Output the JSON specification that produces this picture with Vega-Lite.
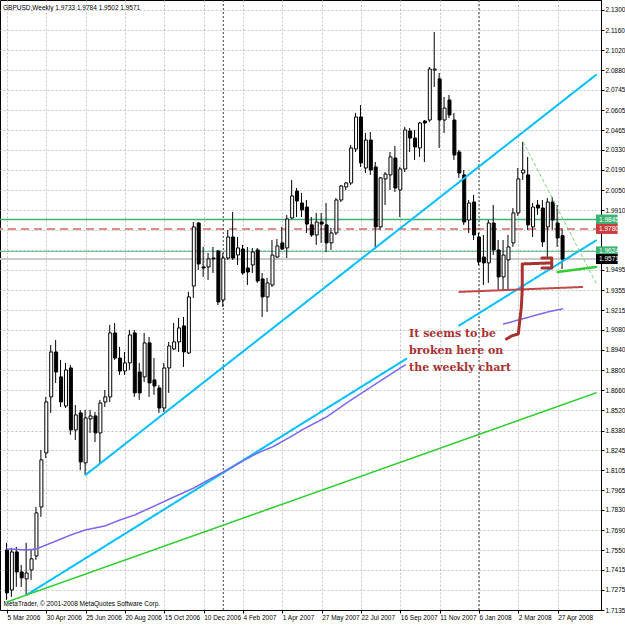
{
"$schema":"https://vega.github.io/schema/vega-lite/v6.json",
"width":601,"height":610,"padding":{"left":0,"top":0,"right":24,"bottom":15},"autosize":{"type":"none"},
"background":"white",
"title":{"text":"GBPUSD,Weekly  1.9733 1.9784 1.9502 1.9571","anchor":"start","frame":"group","orient":"top","offset":-18,"fontSize":6.5,"font":"Liberation Sans","fontWeight":"normal","color":"black","dx":3,"baseline":"bottom"},
"config":{"view":{"stroke":"black","strokeWidth":1},"axis":{"labelFont":"Liberation Sans","labelFontSize":6.5,"labelColor":"black","domainColor":"black","tickColor":"black","gridColor":"#C4C4C4","gridDash":[2,2],"gridWidth":1,"labelOverlap":false,"labelFlush":false},"axisY":{"labelOverlap":false,"labelSeparation":-20}},
"datasets":{
"candles":[
{"d":"2006-03-05","o":1.7552,"h":1.7601,"l":1.7205,"c":1.7254},
{"d":"2006-03-12","o":1.7274,"h":1.7566,"l":1.7226,"c":1.7538},
{"d":"2006-03-19","o":1.7538,"h":1.7573,"l":1.7295,"c":1.7399},
{"d":"2006-03-26","o":1.7399,"h":1.7448,"l":1.7295,"c":1.7358},
{"d":"2006-04-02","o":1.7351,"h":1.7601,"l":1.7240,"c":1.7392},
{"d":"2006-04-09","o":1.7413,"h":1.7552,"l":1.7344,"c":1.7490},
{"d":"2006-04-16","o":1.7510,"h":1.7850,"l":1.7483,"c":1.7809},
{"d":"2006-04-23","o":1.7850,"h":1.8246,"l":1.7781,"c":1.8177},
{"d":"2006-04-30","o":1.8225,"h":1.8614,"l":1.8190,"c":1.8579},
{"d":"2006-05-07","o":1.8614,"h":1.8975,"l":1.8503,"c":1.8926},
{"d":"2006-05-14","o":1.8926,"h":1.9009,"l":1.8711,"c":1.8787},
{"d":"2006-05-21","o":1.8753,"h":1.8871,"l":1.8544,"c":1.8579},
{"d":"2006-05-28","o":1.8551,"h":1.8850,"l":1.8537,"c":1.8801},
{"d":"2006-06-04","o":1.8815,"h":1.8836,"l":1.8350,"c":1.8385},
{"d":"2006-06-11","o":1.8385,"h":1.8558,"l":1.8315,"c":1.8489},
{"d":"2006-06-18","o":1.8503,"h":1.8524,"l":1.8107,"c":1.8163},
{"d":"2006-06-25","o":1.8156,"h":1.8524,"l":1.8073,"c":1.8468},
{"d":"2006-07-02","o":1.8461,"h":1.8524,"l":1.8364,"c":1.8482},
{"d":"2006-07-09","o":1.8482,"h":1.8510,"l":1.8301,"c":1.8364},
{"d":"2006-07-16","o":1.8364,"h":1.8593,"l":1.8156,"c":1.8572},
{"d":"2006-07-23","o":1.8579,"h":1.8662,"l":1.8544,"c":1.8614},
{"d":"2006-07-30","o":1.8614,"h":1.9114,"l":1.8579,"c":1.9058},
{"d":"2006-08-06","o":1.9058,"h":1.9127,"l":1.8871,"c":1.8884},
{"d":"2006-08-13","o":1.8884,"h":1.8961,"l":1.8767,"c":1.8794},
{"d":"2006-08-20","o":1.8794,"h":1.8926,"l":1.8767,"c":1.8850},
{"d":"2006-08-27","o":1.8850,"h":1.9079,"l":1.8801,"c":1.9044},
{"d":"2006-09-03","o":1.9058,"h":1.9079,"l":1.8614,"c":1.8642},
{"d":"2006-09-10","o":1.8787,"h":1.8850,"l":1.8593,"c":1.8642},
{"d":"2006-09-17","o":1.8753,"h":1.9058,"l":1.8718,"c":1.8989},
{"d":"2006-09-24","o":1.8989,"h":1.9030,"l":1.8614,"c":1.8711},
{"d":"2006-10-01","o":1.8732,"h":1.8884,"l":1.8628,"c":1.8690},
{"d":"2006-10-08","o":1.8676,"h":1.8697,"l":1.8503,"c":1.8537},
{"d":"2006-10-15","o":1.8537,"h":1.8850,"l":1.8510,"c":1.8815},
{"d":"2006-10-22","o":1.8815,"h":1.8996,"l":1.8642,"c":1.8968},
{"d":"2006-10-29","o":1.8947,"h":1.9127,"l":1.8940,"c":1.8996},
{"d":"2006-11-05","o":1.8996,"h":1.9162,"l":1.8926,"c":1.9093},
{"d":"2006-11-12","o":1.9107,"h":1.9169,"l":1.8822,"c":1.8926},
{"d":"2006-11-19","o":1.8919,"h":1.9343,"l":1.8912,"c":1.9308},
{"d":"2006-11-26","o":1.9384,"h":1.9828,"l":1.9301,"c":1.9794},
{"d":"2006-12-03","o":1.9821,"h":1.9828,"l":1.9495,"c":1.9537},
{"d":"2006-12-10","o":1.9516,"h":1.9655,"l":1.9447,"c":1.9509},
{"d":"2006-12-17","o":1.9516,"h":1.9613,"l":1.9426,"c":1.9572},
{"d":"2006-12-24","o":1.9578,"h":1.9655,"l":1.9474,"c":1.9572},
{"d":"2006-12-31","o":1.9627,"h":1.9634,"l":1.9252,"c":1.9273},
{"d":"2007-01-07","o":1.9287,"h":1.9613,"l":1.9238,"c":1.9578},
{"d":"2007-01-14","o":1.9578,"h":1.9773,"l":1.9565,"c":1.9724},
{"d":"2007-01-21","o":1.9724,"h":1.9898,"l":1.9565,"c":1.9578},
{"d":"2007-01-28","o":1.9599,"h":1.9724,"l":1.9530,"c":1.9648},
{"d":"2007-02-04","o":1.9641,"h":1.9669,"l":1.9461,"c":1.9474},
{"d":"2007-02-11","o":1.9509,"h":1.9655,"l":1.9391,"c":1.9481},
{"d":"2007-02-18","o":1.9530,"h":1.9648,"l":1.9474,"c":1.9620},
{"d":"2007-02-25","o":1.9634,"h":1.9648,"l":1.9405,"c":1.9419},
{"d":"2007-03-04","o":1.9433,"h":1.9474,"l":1.9169,"c":1.9308},
{"d":"2007-03-11","o":1.9308,"h":1.9440,"l":1.9204,"c":1.9405},
{"d":"2007-03-18","o":1.9391,"h":1.9703,"l":1.9377,"c":1.9599},
{"d":"2007-03-25","o":1.9585,"h":1.9710,"l":1.9578,"c":1.9662},
{"d":"2007-04-01","o":1.9683,"h":1.9794,"l":1.9634,"c":1.9641},
{"d":"2007-04-08","o":1.9648,"h":1.9877,"l":1.9578,"c":1.9849},
{"d":"2007-04-15","o":1.9856,"h":2.0120,"l":1.9849,"c":2.0009},
{"d":"2007-04-22","o":2.0043,"h":2.0064,"l":1.9863,"c":1.9974},
{"d":"2007-04-29","o":1.9960,"h":2.0030,"l":1.9863,"c":1.9912},
{"d":"2007-05-06","o":1.9932,"h":1.9981,"l":1.9752,"c":1.9814},
{"d":"2007-05-13","o":1.9808,"h":1.9863,"l":1.9724,"c":1.9738},
{"d":"2007-05-20","o":1.9738,"h":1.9891,"l":1.9669,"c":1.9828},
{"d":"2007-05-27","o":1.9828,"h":1.9891,"l":1.9683,"c":1.9814},
{"d":"2007-06-03","o":1.9808,"h":1.9960,"l":1.9620,"c":1.9683},
{"d":"2007-06-10","o":1.9683,"h":1.9787,"l":1.9634,"c":1.9752},
{"d":"2007-06-17","o":1.9752,"h":1.9995,"l":1.9738,"c":1.9981},
{"d":"2007-06-24","o":1.9981,"h":2.0085,"l":1.9967,"c":2.0078},
{"d":"2007-07-01","o":2.0071,"h":2.0106,"l":2.0050,"c":2.0099},
{"d":"2007-07-08","o":2.0099,"h":2.0363,"l":2.0085,"c":2.0342},
{"d":"2007-07-15","o":2.0335,"h":2.0585,"l":2.0314,"c":2.0557},
{"d":"2007-07-22","o":2.0557,"h":2.0640,"l":2.0210,"c":2.0238},
{"d":"2007-07-29","o":2.0203,"h":2.0446,"l":2.0168,"c":2.0397},
{"d":"2007-08-05","o":2.0397,"h":2.0453,"l":2.0155,"c":2.0189},
{"d":"2007-08-12","o":2.0210,"h":2.0245,"l":1.9655,"c":1.9794},
{"d":"2007-08-19","o":1.9794,"h":2.0141,"l":1.9773,"c":2.0134},
{"d":"2007-08-26","o":2.0127,"h":2.0175,"l":1.9946,"c":2.0161},
{"d":"2007-09-02","o":2.0155,"h":2.0314,"l":2.0050,"c":2.0280},
{"d":"2007-09-09","o":2.0272,"h":2.0356,"l":2.0036,"c":2.0064},
{"d":"2007-09-16","o":2.0050,"h":2.0210,"l":1.9863,"c":2.0196},
{"d":"2007-09-23","o":2.0196,"h":2.0488,"l":2.0175,"c":2.0467},
{"d":"2007-09-30","o":2.0460,"h":2.0481,"l":2.0314,"c":2.0411},
{"d":"2007-10-07","o":2.0411,"h":2.0467,"l":2.0259,"c":2.0349},
{"d":"2007-10-14","o":2.0342,"h":2.0522,"l":2.0280,"c":2.0515},
{"d":"2007-10-21","o":2.0529,"h":2.0536,"l":2.0245,"c":2.0515},
{"d":"2007-10-28","o":2.0536,"h":2.0904,"l":2.0522,"c":2.0890},
{"d":"2007-11-04","o":2.0883,"h":2.1147,"l":2.0765,"c":2.0890},
{"d":"2007-11-11","o":2.0821,"h":2.0862,"l":2.0342,"c":2.0536},
{"d":"2007-11-18","o":2.0536,"h":2.0696,"l":2.0446,"c":2.0619},
{"d":"2007-11-25","o":2.0675,"h":2.0710,"l":2.0550,"c":2.0571},
{"d":"2007-12-02","o":2.0536,"h":2.0585,"l":2.0259,"c":2.0293},
{"d":"2007-12-09","o":2.0314,"h":2.0328,"l":2.0134,"c":2.0168},
{"d":"2007-12-16","o":2.0155,"h":2.0189,"l":1.9808,"c":1.9828},
{"d":"2007-12-23","o":1.9842,"h":1.9981,"l":1.9752,"c":1.9960},
{"d":"2007-12-30","o":1.9967,"h":2.0016,"l":1.9703,"c":1.9738},
{"d":"2008-01-06","o":1.9724,"h":1.9752,"l":1.9530,"c":1.9551},
{"d":"2008-01-13","o":1.9585,"h":1.9738,"l":1.9391,"c":1.9544},
{"d":"2008-01-20","o":1.9544,"h":1.9842,"l":1.9405,"c":1.9821},
{"d":"2008-01-27","o":1.9821,"h":1.9946,"l":1.9599,"c":1.9634},
{"d":"2008-02-03","o":1.9634,"h":1.9703,"l":1.9356,"c":1.9447},
{"d":"2008-02-10","o":1.9447,"h":1.9703,"l":1.9356,"c":1.9599},
{"d":"2008-02-17","o":1.9565,"h":1.9738,"l":1.9356,"c":1.9655},
{"d":"2008-02-24","o":1.9683,"h":1.9925,"l":1.9655,"c":1.9891},
{"d":"2008-03-02","o":1.9891,"h":2.0203,"l":1.9870,"c":2.0127},
{"d":"2008-03-09","o":2.0168,"h":2.0384,"l":2.0120,"c":2.0189},
{"d":"2008-03-16","o":2.0155,"h":2.0279,"l":1.9773,"c":1.9808},
{"d":"2008-03-23","o":1.9794,"h":1.9960,"l":1.9724,"c":1.9932},
{"d":"2008-03-30","o":1.9946,"h":1.9981,"l":1.9877,"c":1.9925},
{"d":"2008-04-06","o":1.9925,"h":1.9981,"l":1.9655,"c":1.9690},
{"d":"2008-04-13","o":1.9794,"h":1.9995,"l":1.9585,"c":1.9967},
{"d":"2008-04-20","o":1.9967,"h":2.0002,"l":1.9773,"c":1.9842},
{"d":"2008-04-27","o":1.9821,"h":1.9946,"l":1.9655,"c":1.9717},
{"d":"2008-05-04","o":1.9733,"h":1.9784,"l":1.9502,"c":1.9571}
],
"hl":[{"name":"res","p":1.9845},{"name":"piv","p":1.9780},{"name":"sup","p":1.9624},{"name":"bid","p":1.9571}],
"sep":[{"d":"2007-01-07"},{"d":"2008-01-06"}],
"lines":[
{"g":"b1","k":"blue","n":1,"d":"2006-06-25","p":1.8073},
{"g":"b1","k":"blue","n":2,"d":"2008-06-20T14:24:00Z","p":2.0849},
{"g":"b2","k":"blue","n":3,"d":"2006-04-02","p":1.7240},
{"g":"b2","k":"blue","n":4,"d":"2007-09-24T10:00:00Z","p":1.8878},
{"g":"b3","k":"blue","n":5,"d":"2007-12-09","p":1.9110},
{"g":"b3","k":"blue","n":6,"d":"2008-06-20T14:24:00Z","p":1.9700},
{"g":"g1","k":"green","n":7,"d":"2006-03-05","p":1.7191},
{"g":"g1","k":"green","n":8,"d":"2008-06-20T14:24:00Z","p":1.8642},
{"g":"m1","k":"ma","n":10,"d":"2006-03-05","p":1.7559},
{"g":"m1","k":"ma","n":11,"d":"2006-04-02","p":1.7552},
{"g":"m1","k":"ma","n":12,"d":"2006-04-16","p":1.7559},
{"g":"m1","k":"ma","n":13,"d":"2006-05-14","p":1.7614},
{"g":"m1","k":"ma","n":14,"d":"2006-06-04","p":1.7656},
{"g":"m1","k":"ma","n":15,"d":"2006-06-25","p":1.7691},
{"g":"m1","k":"ma","n":16,"d":"2006-07-23","p":1.7719},
{"g":"m1","k":"ma","n":17,"d":"2006-08-13","p":1.7760},
{"g":"m1","k":"ma","n":18,"d":"2006-09-03","p":1.7795},
{"g":"m1","k":"ma","n":19,"d":"2006-10-01","p":1.7857},
{"g":"m1","k":"ma","n":20,"d":"2006-10-29","p":1.7920},
{"g":"m1","k":"ma","n":21,"d":"2006-11-26","p":1.7982},
{"g":"m1","k":"ma","n":22,"d":"2006-12-17","p":1.8038},
{"g":"m1","k":"ma","n":23,"d":"2007-01-07","p":1.8093},
{"g":"m1","k":"ma","n":24,"d":"2007-02-04","p":1.8170},
{"g":"m1","k":"ma","n":25,"d":"2007-02-25","p":1.8225},
{"g":"m1","k":"ma","n":26,"d":"2007-03-18","p":1.8267},
{"g":"m1","k":"ma","n":27,"d":"2007-04-15","p":1.8343},
{"g":"m1","k":"ma","n":28,"d":"2007-04-29","p":1.8385},
{"g":"m1","k":"ma","n":29,"d":"2007-06-03","p":1.8475},
{"g":"m1","k":"ma","n":30,"d":"2007-07-08","p":1.8593},
{"g":"m1","k":"ma","n":31,"d":"2007-08-12","p":1.8704},
{"g":"m1","k":"ma","n":32,"d":"2007-09-16","p":1.8815},
{"g":"m1","k":"ma","n":33,"d":"2007-09-23","p":1.8836},
{"g":"m2","k":"ma","n":40,"d":"2008-02-10","p":1.9120},
{"g":"m2","k":"ma","n":41,"d":"2008-03-02","p":1.9148},
{"g":"m2","k":"ma","n":42,"d":"2008-03-23","p":1.9176},
{"g":"m2","k":"ma","n":43,"d":"2008-04-13","p":1.9204},
{"g":"m2","k":"ma","n":44,"d":"2008-05-04","p":1.9225},
{"g":"r1","k":"red","n":50,"d":"2007-12-09","p":1.9343},
{"g":"r1","k":"red","n":51,"d":"2008-06-01","p":1.9377},
{"g":"g2","k":"lime","n":52,"d":"2008-04-27","p":1.9481},
{"g":"g2","k":"lime","n":53,"d":"2008-06-20T14:24:00Z","p":1.9516},
{"g":"g3","k":"fan","n":54,"d":"2008-03-09","p":2.0384},
{"g":"g3","k":"fan","n":55,"d":"2008-06-20T14:24:00Z","p":1.9405},
{"g":"a1","k":"arrow","n":60,"d":"2008-02-14T05:00:00Z","p":1.9016},
{"g":"a1","k":"arrow","n":61,"d":"2008-02-21T05:00:00Z","p":1.9037},
{"g":"a1","k":"arrow","n":62,"d":"2008-03-02T00:00:00Z","p":1.9051},
{"g":"a1","k":"arrow","n":63,"d":"2008-03-03T10:00:00Z","p":1.9114},
{"g":"a1","k":"arrow","n":64,"d":"2008-03-06T05:00:00Z","p":1.9231},
{"g":"a1","k":"arrow","n":65,"d":"2008-03-07T14:00:00Z","p":1.9356},
{"g":"a1","k":"arrow","n":66,"d":"2008-03-07T15:00:00Z","p":1.9537},
{"g":"a1","k":"arrow","n":67,"d":"2008-04-17T05:00:00Z","p":1.9544},
{"g":"a2","k":"arrow","n":70,"d":"2008-04-04T14:00:00Z","p":1.9578},
{"g":"a2","k":"arrow","n":71,"d":"2008-04-18T14:00:00Z","p":1.9578},
{"g":"a2","k":"arrow","n":72,"d":"2008-04-18T15:00:00Z","p":1.9509},
{"g":"a2","k":"arrow","n":73,"d":"2008-04-04T14:00:00Z","p":1.9509}
],
"notes":[
{"d":"2007-09-28T12:00:00Z","p":1.9030,"t":"It seems to be"},
{"d":"2007-09-28T12:00:00Z","p":1.8912,"t":"broken here on"},
{"d":"2007-09-28T12:00:00Z","p":1.8794,"t":"the weekly chart"}
]
},
"resolve":{"scale":{"color":"independent","stroke":"independent","fill":"independent","strokeDash":"independent","strokeWidth":"independent"}},
"layer":[
{"data":{"name":"hl"},"mark":{"type":"rule"},
"encoding":{"y":{"field":"p","type":"quantitative","scale":{"domain":[1.7135,2.1369],"nice":false,"zero":false},
"axis":{"orient":"right","title":null,"values":[1.7135,1.7275,1.7415,1.7550,1.7690,1.7830,1.7965,1.8105,1.8245,1.8380,1.8520,1.8660,1.8800,1.8940,1.9080,1.9215,1.9355,1.9495,1.9635,1.9770,1.9910,2.0050,2.0190,2.0330,2.0465,2.0605,2.0745,2.0880,2.1020,2.1160,2.1300],"labelExpr":"(datum.value > 1.962 && datum.value < 1.979) ? '' : format(datum.value, '.4f')","labelAlign":"left","labelPadding":1,"tickSize":3,"labelOverlap":false,"labelSeparation":-20,"labelFlush":false,"grid":true}},
"stroke":{"field":"name","type":"nominal","scale":{"domain":["res","piv","sup","bid"],"range":["#3CB371","#E08C8C","#5DBE8A","#C8C8C8"]},"legend":null},
"strokeWidth":{"field":"name","type":"nominal","scale":{"type":"ordinal","domain":["res","piv","sup","bid"],"range":[1.5,2,1,2]},"legend":null},
"strokeDash":{"field":"name","type":"nominal","scale":{"domain":["res","piv","sup","bid"],"range":[[1,0],[8,5],[1,0],[1,0]]},"legend":null}}},
{"data":{"name":"sep"},"mark":{"type":"rule","color":"#404040","strokeDash":[2,2],"strokeWidth":1},
"encoding":{"x":{"field":"d","type":"temporal","scale":{"type":"utc","domain":[{"year":2006,"month":3,"date":2,"hours":4,"minutes":48,"utc":true},{"year":2008,"month":6,"date":20,"hours":14,"minutes":24,"utc":true}]},
"axis":{"values":[
{"year":2006,"month":3,"date":5,"utc":true},{"year":2006,"month":4,"date":2,"utc":true},{"year":2006,"month":4,"date":30,"utc":true},{"year":2006,"month":5,"date":28,"utc":true},{"year":2006,"month":6,"date":25,"utc":true},{"year":2006,"month":7,"date":23,"utc":true},{"year":2006,"month":8,"date":20,"utc":true},{"year":2006,"month":9,"date":17,"utc":true},{"year":2006,"month":10,"date":15,"utc":true},{"year":2006,"month":11,"date":12,"utc":true},{"year":2006,"month":12,"date":10,"utc":true},{"year":2007,"month":1,"date":7,"utc":true},{"year":2007,"month":2,"date":4,"utc":true},{"year":2007,"month":3,"date":4,"utc":true},{"year":2007,"month":4,"date":1,"utc":true},{"year":2007,"month":4,"date":29,"utc":true},{"year":2007,"month":5,"date":27,"utc":true},{"year":2007,"month":6,"date":24,"utc":true},{"year":2007,"month":7,"date":22,"utc":true},{"year":2007,"month":8,"date":19,"utc":true},{"year":2007,"month":9,"date":16,"utc":true},{"year":2007,"month":10,"date":14,"utc":true},{"year":2007,"month":11,"date":11,"utc":true},{"year":2007,"month":12,"date":9,"utc":true},{"year":2008,"month":1,"date":6,"utc":true},{"year":2008,"month":2,"date":3,"utc":true},{"year":2008,"month":3,"date":2,"utc":true},{"year":2008,"month":3,"date":30,"utc":true},{"year":2008,"month":4,"date":27,"utc":true},{"year":2008,"month":5,"date":25,"utc":true}],
"labelExpr":"(round((datum.value - 1141516800000) / 604800000) % 8 == 0) ? utcFormat(datum.value, '%-d %b %Y') : ''",
"labelAlign":"left","labelBaseline":"top","labelPadding":1,"labelOverlap":false,"labelFlush":false,"labelBound":false,
"tickSize":3,"tickOpacity":{"condition":{"test":"round((datum.value - 1141516800000) / 604800000) % 8 == 0","value":1},"value":0},
"grid":true,
"title":"MetaTrader, © 2001-2008 MetaQuotes Software Corp.","titleAnchor":"start","titleAlign":"left","titleBaseline":"bottom","titleX":3,"titleY":-4,"titleFont":"Liberation Sans","titleFontSize":6.5,"titleFontWeight":"normal","titleColor":"black"}},
"y":{"datum":1.7135,"type":"quantitative","scale":{"domain":[1.7135,2.1369],"nice":false,"zero":false},"axis":{"orient":"right","title":null,"values":[1.7135,1.7275,1.7415,1.7550,1.7690,1.7830,1.7965,1.8105,1.8245,1.8380,1.8520,1.8660,1.8800,1.8940,1.9080,1.9215,1.9355,1.9495,1.9635,1.9770,1.9910,2.0050,2.0190,2.0330,2.0465,2.0605,2.0745,2.0880,2.1020,2.1160,2.1300],"labelExpr":"(datum.value > 1.962 && datum.value < 1.979) ? '' : format(datum.value, '.4f')","labelAlign":"left","labelPadding":1,"tickSize":3,"labelOverlap":false,"labelSeparation":-20,"labelFlush":false,"grid":true}},"y2":{"datum":2.1369}}},
{"data":{"name":"candles"},"mark":{"type":"rule","color":"black","strokeWidth":1,"xOffset":-0.5},
"encoding":{"x":{"field":"d","type":"temporal","scale":{"type":"utc"}},
"y":{"field":"l","type":"quantitative","scale":{"domain":[1.7135,2.1369],"nice":false,"zero":false},"axis":{"orient":"right","title":null,"values":[1.7135,1.7275,1.7415,1.7550,1.7690,1.7830,1.7965,1.8105,1.8245,1.8380,1.8520,1.8660,1.8800,1.8940,1.9080,1.9215,1.9355,1.9495,1.9635,1.9770,1.9910,2.0050,2.0190,2.0330,2.0465,2.0605,2.0745,2.0880,2.1020,2.1160,2.1300],"labelExpr":"(datum.value > 1.962 && datum.value < 1.979) ? '' : format(datum.value, '.4f')","labelAlign":"left","labelPadding":1,"tickSize":3,"labelOverlap":false,"labelSeparation":-20,"labelFlush":false,"grid":true}},"y2":{"field":"h"}}},
{"data":{"name":"candles"},"mark":{"type":"bar","size":3,"stroke":"black","strokeWidth":1},
"encoding":{"x":{"field":"d","type":"temporal","scale":{"type":"utc"}},
"y":{"field":"o","type":"quantitative","scale":{"domain":[1.7135,2.1369],"nice":false,"zero":false},"axis":{"orient":"right","title":null,"values":[1.7135,1.7275,1.7415,1.7550,1.7690,1.7830,1.7965,1.8105,1.8245,1.8380,1.8520,1.8660,1.8800,1.8940,1.9080,1.9215,1.9355,1.9495,1.9635,1.9770,1.9910,2.0050,2.0190,2.0330,2.0465,2.0605,2.0745,2.0880,2.1020,2.1160,2.1300],"labelExpr":"(datum.value > 1.962 && datum.value < 1.979) ? '' : format(datum.value, '.4f')","labelAlign":"left","labelPadding":1,"tickSize":3,"labelOverlap":false,"labelSeparation":-20,"labelFlush":false,"grid":true}},"y2":{"field":"c"},
"fill":{"condition":{"test":"datum.c >= datum.o","value":"white"},"value":"black"}}},
{"data":{"name":"lines"},"mark":{"type":"line","strokeJoin":"round","strokeCap":"round"},
"encoding":{"x":{"field":"d","type":"temporal","scale":{"type":"utc"}},
"y":{"field":"p","type":"quantitative","scale":{"domain":[1.7135,2.1369],"nice":false,"zero":false},"axis":{"orient":"right","title":null,"values":[1.7135,1.7275,1.7415,1.7550,1.7690,1.7830,1.7965,1.8105,1.8245,1.8380,1.8520,1.8660,1.8800,1.8940,1.9080,1.9215,1.9355,1.9495,1.9635,1.9770,1.9910,2.0050,2.0190,2.0330,2.0465,2.0605,2.0745,2.0880,2.1020,2.1160,2.1300],"labelExpr":"(datum.value > 1.962 && datum.value < 1.979) ? '' : format(datum.value, '.4f')","labelAlign":"left","labelPadding":1,"tickSize":3,"labelOverlap":false,"labelSeparation":-20,"labelFlush":false,"grid":true}},
"detail":{"field":"g","type":"nominal"},"order":{"field":"n","type":"quantitative"},
"color":{"field":"k","type":"nominal","scale":{"domain":["blue","green","ma","red","lime","fan","arrow"],"range":["#00BFFF","#32CD32","#7B68EE","#C04848","#32CD32","#7CD67C","#A83232"]},"legend":null},
"strokeWidth":{"field":"k","type":"nominal","scale":{"type":"ordinal","domain":["blue","green","ma","red","lime","fan","arrow"],"range":[2,1.5,1.5,2,2.5,1,3]},"legend":null},
"strokeDash":{"field":"k","type":"nominal","scale":{"domain":["blue","green","ma","red","lime","fan","arrow"],"range":[[1,0],[1,0],[1,0],[1,0],[1,0],[3,3],[1,0]]},"legend":null}}},
{"data":{"name":"notes"},"mark":{"type":"text","align":"left","baseline":"alphabetic","font":"DejaVu Serif","fontWeight":"bold","fontSize":11,"color":"#A83232"},
"encoding":{"x":{"field":"d","type":"temporal","scale":{"type":"utc"}},
"y":{"field":"p","type":"quantitative","scale":{"domain":[1.7135,2.1369],"nice":false,"zero":false},"axis":{"orient":"right","title":null,"values":[1.7135,1.7275,1.7415,1.7550,1.7690,1.7830,1.7965,1.8105,1.8245,1.8380,1.8520,1.8660,1.8800,1.8940,1.9080,1.9215,1.9355,1.9495,1.9635,1.9770,1.9910,2.0050,2.0190,2.0330,2.0465,2.0605,2.0745,2.0880,2.1020,2.1160,2.1300],"labelExpr":"(datum.value > 1.962 && datum.value < 1.979) ? '' : format(datum.value, '.4f')","labelAlign":"left","labelPadding":1,"tickSize":3,"labelOverlap":false,"labelSeparation":-20,"labelFlush":false,"grid":true}},"text":{"field":"t"}}},
{"data":{"name":"hl"},"mark":{"type":"rect","yOffset":-5,"y2Offset":5},
"encoding":{"x":{"datum":{"year":2008,"month":6,"date":20,"hours":14,"minutes":24,"utc":true},"type":"temporal","scale":{"type":"utc"}},
"x2":{"datum":{"year":2008,"month":7,"date":21,"hours":10,"utc":true}},
"y":{"field":"p","type":"quantitative","scale":{"domain":[1.7135,2.1369],"nice":false,"zero":false},"axis":{"orient":"right","title":null,"values":[1.7135,1.7275,1.7415,1.7550,1.7690,1.7830,1.7965,1.8105,1.8245,1.8380,1.8520,1.8660,1.8800,1.8940,1.9080,1.9215,1.9355,1.9495,1.9635,1.9770,1.9910,2.0050,2.0190,2.0330,2.0465,2.0605,2.0745,2.0880,2.1020,2.1160,2.1300],"labelExpr":"(datum.value > 1.962 && datum.value < 1.979) ? '' : format(datum.value, '.4f')","labelAlign":"left","labelPadding":1,"tickSize":3,"labelOverlap":false,"labelSeparation":-20,"labelFlush":false,"grid":true}},"y2":{"field":"p"},
"fill":{"field":"name","type":"nominal","scale":{"domain":["res","piv","sup","bid"],"range":["#3CB371","#C83C3C","#3CB371","#000000"]},"legend":null}}},
{"data":{"name":"hl"},"mark":{"type":"text","align":"left","baseline":"middle","dx":3,"font":"Liberation Sans","fontSize":6.5,"color":"white"},
"encoding":{"x":{"datum":{"year":2008,"month":6,"date":20,"hours":14,"minutes":24,"utc":true},"type":"temporal","scale":{"type":"utc"}},
"y":{"field":"p","type":"quantitative","scale":{"domain":[1.7135,2.1369],"nice":false,"zero":false},"axis":{"orient":"right","title":null,"values":[1.7135,1.7275,1.7415,1.7550,1.7690,1.7830,1.7965,1.8105,1.8245,1.8380,1.8520,1.8660,1.8800,1.8940,1.9080,1.9215,1.9355,1.9495,1.9635,1.9770,1.9910,2.0050,2.0190,2.0330,2.0465,2.0605,2.0745,2.0880,2.1020,2.1160,2.1300],"labelExpr":"(datum.value > 1.962 && datum.value < 1.979) ? '' : format(datum.value, '.4f')","labelAlign":"left","labelPadding":1,"tickSize":3,"labelOverlap":false,"labelSeparation":-20,"labelFlush":false,"grid":true}},
"text":{"field":"p","type":"quantitative","format":".4f"}}}
]
}
